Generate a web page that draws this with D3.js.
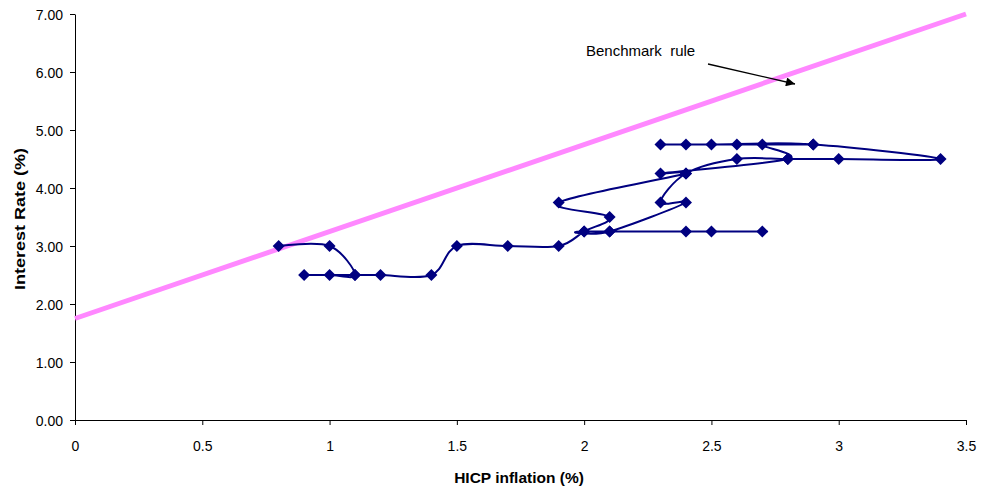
<!DOCTYPE html>
<html>
<head>
<meta charset="utf-8">
<script src="https://cdn.jsdelivr.net/npm/d3@7/dist/d3.min.js"></script>
<style>
  html, body { margin: 0; padding: 0; background: #fff; }
  svg { display: block; font-family: "Liberation Sans", Arial, sans-serif; }
</style>
</head>
<body>
<svg id="chart" width="984" height="495"></svg>
<script>
// ---- data ----
const inflation = [0.8,1.0,1.1,1.0,0.9,1.1,1.2,1.4,1.5,1.7,1.9,2.0,2.1,1.9,2.4,2.3,2.8,2.7,2.9,2.6,2.4,2.3,2.5,2.9,3.4,3.0,2.8,2.6,2.4,2.3,2.4,2.1,2.0,2.7,2.5,2.4,2.1];
const rate      = [3.0,3.0,2.5,2.5,2.5,2.5,2.5,2.5,3.0,3.0,3.0,3.25,3.5,3.75,4.25,4.25,4.5,4.75,4.75,4.75,4.75,4.75,4.75,4.75,4.5,4.5,4.5,4.5,4.25,3.75,3.75,3.25,3.25,3.25,3.25,3.25,3.25];
const benchX = [0, 3.5];
const benchY = [1.75, 7.0];
const xTicks = [0, 0.5, 1, 1.5, 2, 2.5, 3, 3.5];
const yTicks = [0, 1, 2, 3, 4, 5, 6, 7];
const xTitle = "HICP inflation (%)";
const yTitle = "Interest Rate (%)";
const annotation = "Benchmark  rule";

// ---- layout ----
const svg = d3.select("#chart");
const x = d3.scaleLinear().domain([0, 3.5]).range([75, 966]);
const y = d3.scaleLinear().domain([0, 7]).range([420, 14]);

// axes
const xAxis = d3.axisBottom(x).tickValues(xTicks).tickFormat(d3.format("")).tickSize(5).tickSizeOuter(0);
const yAxis = d3.axisLeft(y).tickValues(yTicks).tickFormat(d3.format(".2f")).tickSize(5).tickSizeOuter(0);

const gx = svg.append("g").attr("transform", `translate(0,${y(0)})`).call(xAxis);
const gy = svg.append("g").attr("transform", `translate(${x(0)},0)`).call(yAxis);
[gx, gy].forEach(g => {
  g.selectAll("path.domain").attr("stroke", "#000").attr("stroke-width", 1);
  g.selectAll(".tick line").attr("stroke", "#000");
  g.selectAll("text").attr("fill", "#000").style("font-size", "14px")
    .style("font-family", '"Liberation Sans", Arial, sans-serif');
});
gx.selectAll("text").attr("y", 31).attr("dy", 0);
gy.selectAll("text").attr("x", -12).attr("dy", "0.36em");

// titles
svg.append("text").attr("x", 519).attr("y", 483).attr("text-anchor", "middle")
  .style("font-size", "15.5px").style("font-weight", "bold").text(xTitle);
svg.append("text").attr("transform", `translate(25,219) rotate(-90)`).attr("text-anchor", "middle")
  .attr("textLength", 142).attr("lengthAdjust", "spacingAndGlyphs")
  .style("font-size", "15px").style("font-weight", "bold").text(yTitle);

// benchmark rule
const benchData = benchX.map((v, i) => [v, benchY[i]]);
svg.append("path").datum(benchData)
  .attr("d", d3.line().x(d => x(d[0])).y(d => y(d[1])))
  .attr("fill", "none").attr("stroke", "#ff88ff").attr("stroke-width", 5);

// data path
const pts = inflation.map((v, i) => [v, rate[i]]);
svg.append("path").datum(pts)
  .attr("d", d3.line().x(d => x(d[0])).y(d => y(d[1])).curve(d3.curveCardinal.tension(0)))
  .attr("fill", "none").attr("stroke", "#000080").attr("stroke-width", 2);

const sym = d3.symbol().type(d3.symbolSquare).size(72);
svg.append("g").selectAll("path").data(pts).join("path")
  .attr("d", sym)
  .attr("transform", d => `translate(${x(d[0])},${y(d[1])}) rotate(45)`)
  .attr("fill", "#000080");

// annotation
svg.append("defs").append("marker")
  .attr("id", "arrow").attr("viewBox", "0 0 10 10").attr("refX", 10).attr("refY", 5)
  .attr("markerWidth", 11).attr("markerHeight", 9).attr("markerUnits", "userSpaceOnUse")
  .attr("orient", "auto")
  .append("path").attr("d", "M0,0 L10,5 L0,10 z").attr("fill", "#000");
svg.append("text").attr("x", 586).attr("y", 56).style("font-size", "15px")
  .style("white-space", "pre").attr("xml:space", "preserve").text(annotation);
svg.append("line").attr("x1", 708).attr("y1", 64).attr("x2", 795).attr("y2", 84)
  .attr("stroke", "#000").attr("stroke-width", 1.3).attr("marker-end", "url(#arrow)");
</script>
</body>
</html>
